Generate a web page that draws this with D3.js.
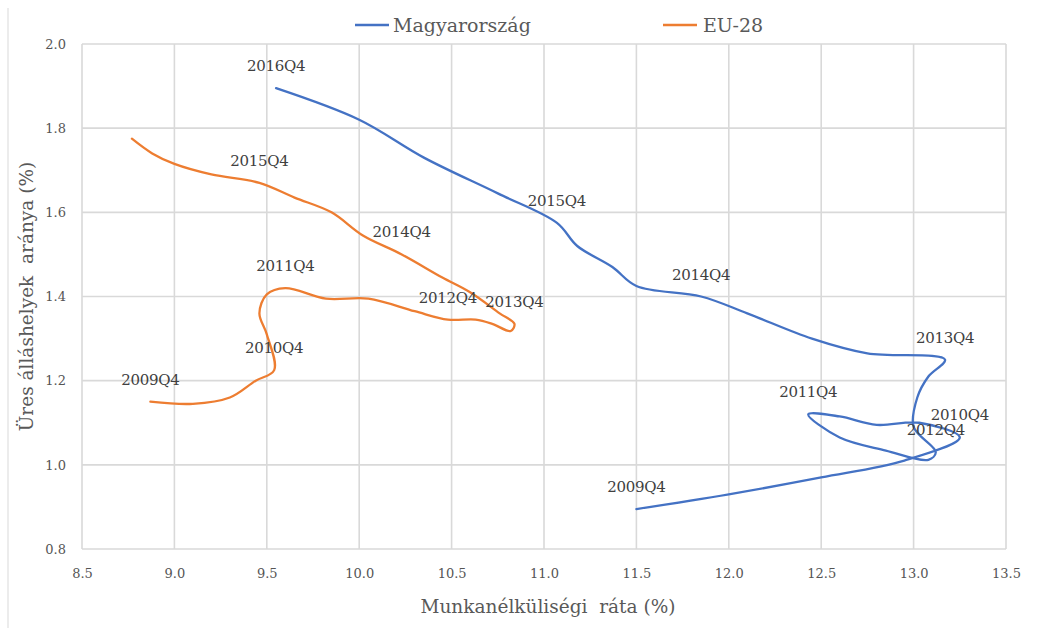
<!DOCTYPE html>
<html>
<head>
<meta charset="utf-8">
<script src="https://cdn.jsdelivr.net/npm/d3@7"></script>
<style>
  body { margin: 0; background: #fff; }
  svg { display: block; }
</style>
</head>
<body>
<svg id="chart" width="1051" height="628"></svg>
<script>
const quarters = ["2009Q4","2010Q1","2010Q2","2010Q3","2010Q4","2011Q1","2011Q2","2011Q3","2011Q4",
  "2012Q1","2012Q2","2012Q3","2012Q4","2013Q1","2013Q2","2013Q3","2013Q4",
  "2014Q1","2014Q2","2014Q3","2014Q4","2015Q1","2015Q2","2015Q3","2015Q4",
  "2016Q1","2016Q2","2016Q3","2016Q4"];

const huUnemp = [11.50,12.00,12.50,12.95,13.25,13.03,12.80,12.60,12.43,
  12.60,12.85,13.08,13.12,13.00,13.02,13.08,13.17,
  12.75,12.45,12.10,11.85,11.50,11.37,11.18,11.07,
  10.75,10.35,10.00,9.55];
const huVac = [0.895,0.93,0.97,1.01,1.065,1.10,1.095,1.115,1.12,
  1.065,1.034,1.012,1.03,1.09,1.16,1.21,1.25,
  1.265,1.30,1.36,1.40,1.425,1.47,1.52,1.575,
  1.645,1.73,1.82,1.895];

const euUnemp = [8.87,9.10,9.30,9.44,9.54,9.50,9.46,9.50,9.60,
  9.82,10.05,10.30,10.48,10.63,10.72,10.82,10.84,
  10.76,10.60,10.45,10.23,10.02,9.85,9.65,9.46,
  9.20,9.00,8.88,8.77];
const euVac = [1.15,1.145,1.16,1.20,1.225,1.31,1.36,1.405,1.42,
  1.395,1.395,1.365,1.345,1.345,1.335,1.318,1.335,
  1.36,1.41,1.445,1.50,1.545,1.60,1.635,1.67,
  1.69,1.715,1.74,1.775];

const huLabelled = ["2009Q4","2010Q4","2011Q4","2012Q4","2013Q4","2014Q4","2015Q4","2016Q4"];
const euLabelled = ["2009Q4","2010Q4","2011Q4","2012Q4","2013Q4","2014Q4","2015Q4"];

const xTicks = [8.5,9.0,9.5,10.0,10.5,11.0,11.5,12.0,12.5,13.0,13.5];
const yTicks = [0.8,1.0,1.2,1.4,1.6,1.8,2.0];

const seriesNames = ["Magyarország","EU-28"];
const colors = ["#4472C4","#ED7D31"];
const xTitle = "Munkanélküliségi  ráta (%)";
const yTitle = "Üres álláshelyek  aránya (%)";

const FONT = "'DejaVu Serif', 'Liberation Serif', serif";
const svg = d3.select("#chart");
const W = 1051, H = 628;
const m = {left: 82, right: W - 1006, top: 44, bottom: H - 549};

const x = d3.scaleLinear().domain([8.5, 13.5]).range([m.left, W - m.right]);
const y = d3.scaleLinear().domain([0.8, 2.0]).range([H - m.bottom, m.top]);

// outer frame line at left
svg.append("line").attr("x1", 8).attr("x2", 8).attr("y1", 8).attr("y2", H)
  .attr("stroke", "#e6e6e6").attr("stroke-width", 1.5);

// gridlines
const grid = svg.append("g");
grid.selectAll(".vg").data(xTicks).join("line")
  .attr("x1", d => x(d)).attr("x2", d => x(d))
  .attr("y1", y(2.0)).attr("y2", y(0.8))
  .attr("stroke", "#d9d9d9").attr("stroke-width", 1.6);
grid.selectAll(".hg").data(yTicks).join("line")
  .attr("x1", x(8.5)).attr("x2", x(13.5))
  .attr("y1", d => y(d)).attr("y2", d => y(d))
  .attr("stroke", "#d9d9d9").attr("stroke-width", 1.6);

// axes (labels only)
const xAxis = d3.axisBottom(x).tickValues(xTicks).tickFormat(d3.format(".1f")).tickSize(0).tickPadding(20);
const gx = svg.append("g").attr("transform", `translate(0,${y(0.8)})`).call(xAxis);
gx.select(".domain").remove();
gx.selectAll("text").attr("font-family", FONT).attr("font-size", 13).attr("fill", "#555");

const yAxis = d3.axisLeft(y).tickValues(yTicks).tickFormat(d3.format(".1f")).tickSize(0).tickPadding(16);
const gy = svg.append("g").attr("transform", `translate(${x(8.5)},0)`).call(yAxis);
gy.select(".domain").remove();
gy.selectAll("text").attr("font-family", FONT).attr("font-size", 13).attr("fill", "#555");

// axis titles
svg.append("text").attr("x", 548).attr("y", 613).attr("text-anchor", "middle")
  .attr("font-family", FONT).attr("font-size", 18.5).attr("fill", "#595959")
  .style("white-space", "pre").text(xTitle);
svg.append("text").attr("transform", `translate(33,${(y(0.8)+y(2.0))/2}) rotate(-90)`)
  .attr("text-anchor", "middle")
  .attr("font-family", FONT).attr("font-size", 18.5).attr("fill", "#595959")
  .style("white-space", "pre").text(yTitle);

// series
const line = d3.line().x(d => x(d[0])).y(d => y(d[1])).curve(d3.curveCatmullRom.alpha(0.5));
const series = [
  {name: seriesNames[0], xs: huUnemp, ys: huVac, lab: huLabelled, color: colors[0]},
  {name: seriesNames[1], xs: euUnemp, ys: euVac, lab: euLabelled, color: colors[1]}
];
series.forEach(s => {
  const pts = s.xs.map((v, i) => [v, s.ys[i], quarters[i]]);
  svg.append("path").datum(pts).attr("d", line)
    .attr("fill", "none").attr("stroke", s.color).attr("stroke-width", 2.3)
    .attr("stroke-linejoin", "round").attr("stroke-linecap", "round");
  svg.append("g").selectAll("text").data(pts.filter(p => s.lab.includes(p[2]))).join("text")
    .attr("x", d => x(d[0])).attr("y", d => y(d[1]) - 17)
    .attr("text-anchor", "middle")
    .attr("font-family", FONT).attr("font-size", 15).attr("fill", "#404040")
    .attr("letter-spacing", -0.3)
    .text(d => d[2]);
});

// legend
const legend = [{x0: 355, tx: 393}, {x0: 663, tx: 703}];
legend.forEach((l, i) => {
  svg.append("line").attr("x1", l.x0).attr("x2", l.x0 + 34).attr("y1", 25).attr("y2", 25)
    .attr("stroke", colors[i]).attr("stroke-width", 2.3);
  svg.append("text").attr("x", l.tx).attr("y", 32)
    .attr("font-family", FONT).attr("font-size", 19).attr("fill", "#595959")
    .text(seriesNames[i]);
});
</script>
</body>
</html>
